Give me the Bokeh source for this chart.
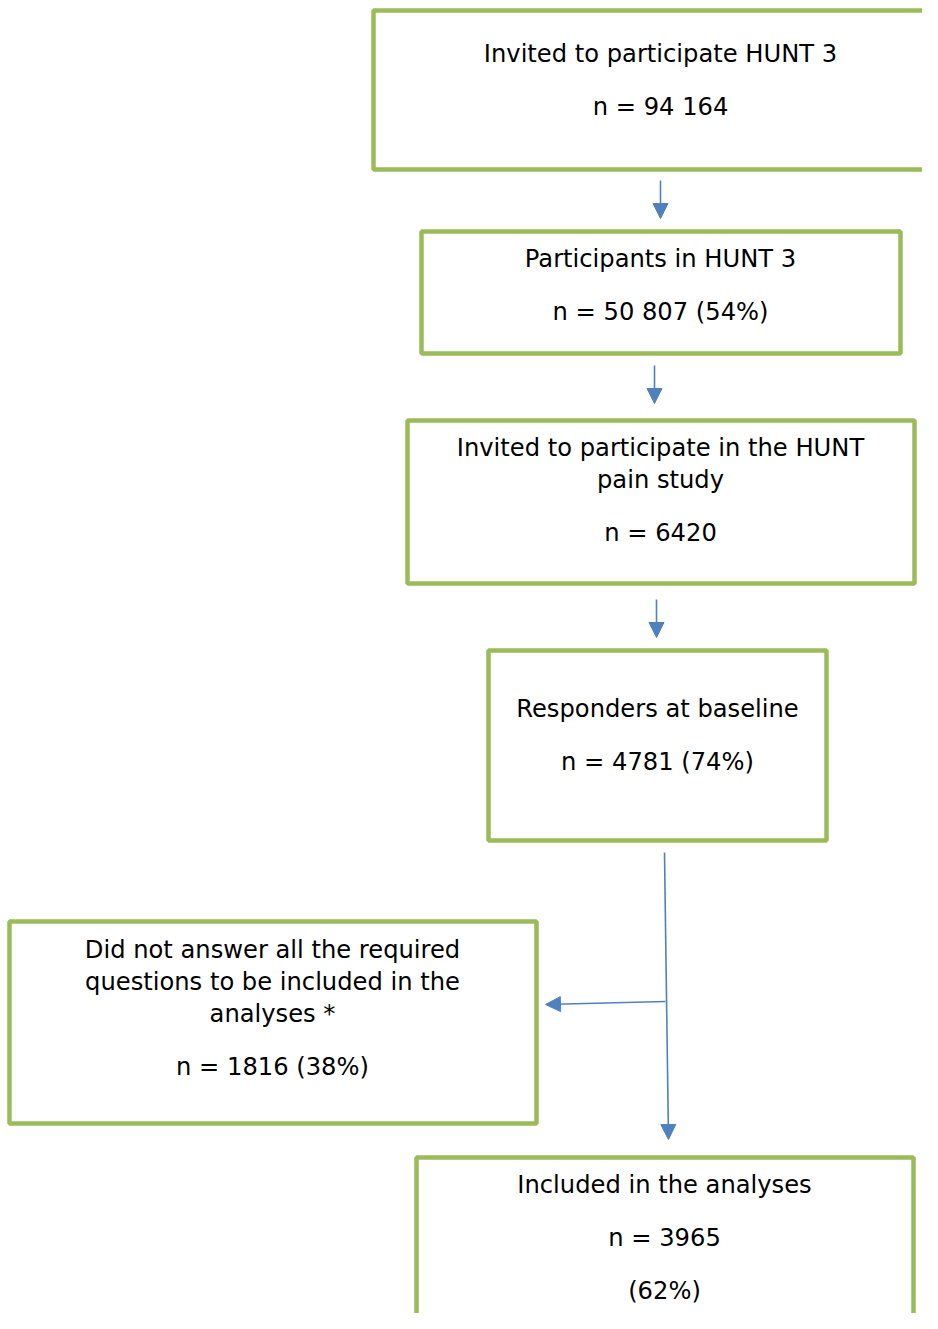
from bokeh.plotting import figure
from bokeh.models import Range1d, Arrow, NormalHead, ColumnDataSource
from bokeh.core.properties import value
from bokeh.embed import file_html
from bokeh.resources import INLINE

# ---- data (flow-chart content) ----
step_titles = [
    ["Invited to participate HUNT 3"],
    ["Participants in HUNT 3"],
    ["Invited to participate in the HUNT", "pain study"],
    ["Responders at baseline"],
    ["Did not answer all the required", "questions to be included in the", "analyses *"],
    ["Included in the analyses"],
]
step_counts = ["94 164", "50 807", "6420", "4781", "1816", "3965"]
step_pcts = [None, "54%", None, "74%", "38%", "62%"]
pct_on_own_line = [False, False, False, False, False, True]

# ---- layout (pixel positions of the page) ----
box_left = [373, 421, 407, 488, 9, 416]
box_right = [960, 900, 914, 826, 536, 913]
box_top = [10, 231, 420, 650, 921, 1157]
box_bottom = [169, 353, 583, 840, 1123, 1360]
text_cx = [660, 660, 660, 657, 272, 664]
text_y0 = [53, 258, 447, 708, 949, 1184]
wrap_gap = 32
para_gap = 53

arrows = [  # x_start, y_start, x_end, y_end
    (660, 180, 660, 218),
    (654, 365, 654, 403),
    (656, 599, 656, 637),
    (664, 852, 668, 1139),
    (665, 1001, 545, 1004),
]

GREEN = "#9BBB59"
BLUE = "#4F81BD"
FONT = "DejaVu Sans"

p = figure(width=922, height=1313, output_backend="svg", toolbar_location=None,
           x_range=Range1d(0, 922), y_range=Range1d(1313, 0),
           min_border=0, background_fill_color="white")
p.axis.visible = False
p.grid.visible = False
p.outline_line_color = None

p.quad(left=box_left, right=box_right, top=box_top, bottom=box_bottom,
       fill_color="white", line_color=GREEN, line_width=4.5)

xs, ys, texts = [], [], []
for i in range(len(step_titles)):
    y = text_y0[i]
    for k, line in enumerate(step_titles[i]):
        xs.append(text_cx[i]); ys.append(y); texts.append(line)
        y += wrap_gap
    y += para_gap - wrap_gap
    lab = "n = " + step_counts[i]
    if step_pcts[i] is not None and not pct_on_own_line[i]:
        lab += " (" + step_pcts[i] + ")"
    xs.append(text_cx[i]); ys.append(y); texts.append(lab)
    if step_pcts[i] is not None and pct_on_own_line[i]:
        y += para_gap
        xs.append(text_cx[i]); ys.append(y); texts.append("(" + step_pcts[i] + ")")

src = ColumnDataSource(dict(x=xs, y=ys, text=texts))
p.text(x="x", y="y", text="text", source=src, text_font=value(FONT),
       text_font_size="24.2px", text_color="#000000",
       text_align="center", text_baseline="middle")

for (x0, y0, x1, y1) in arrows:
    p.add_layout(Arrow(x_start=x0, y_start=y0, x_end=x1, y_end=y1,
                       line_color=BLUE, line_width=1.6,
                       end=NormalHead(size=15, fill_color=BLUE, line_color=BLUE, line_width=1)))

open("out.html", "w").write(file_html(p, INLINE))
